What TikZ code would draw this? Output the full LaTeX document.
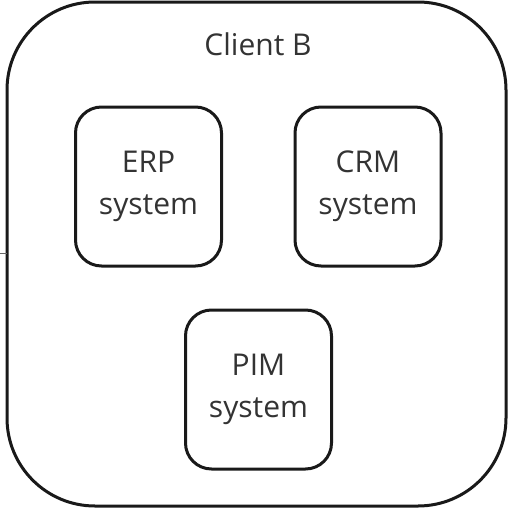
\documentclass[tikz,border=0pt]{standalone}
\usepackage{fontspec}
\setmainfont{Open Sans}
\begin{document}
\begin{tikzpicture}[x=1pt,y=-1pt,
  outerbox/.style={draw=black!90, line width=3pt, rounded corners=88pt},
  sysbox/.style={draw=black!90, line width=3pt, rounded corners=26pt, minimum width=146pt, minimum height=159pt, align=center, font=\fontsize{30}{42}\selectfont, text=black!80},
  lbl/.style={font=\fontsize{30}{42}\selectfont, text=black!80}]
\useasboundingbox (0,0) rectangle (510,514);
\draw[outerbox] (7,2) rectangle (506,506);
\coordinate (ow) at (7,253);
\coordinate (stub) at (0,253);
\node[lbl] (title) at (258,44) {Client B};
\node[sysbox] (erp) at (148.5,186.5) {ERP\\system};
\node[sysbox] (crm) at (368,186.5) {CRM\\system};
\node[sysbox] (pim) at (258.5,389.5) {PIM\\system};
\draw[black!60, line width=1pt] (ow) -- (stub);
\end{tikzpicture}
\end{document}
